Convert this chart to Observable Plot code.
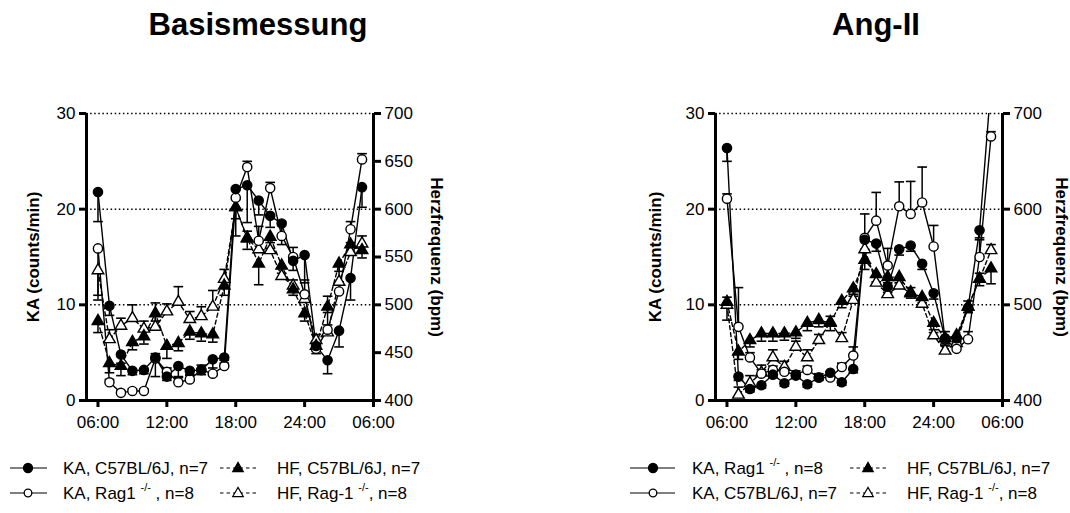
<!DOCTYPE html>
<html>
<head>
<meta charset="utf-8">
<script src="https://cdn.jsdelivr.net/npm/d3@7"></script>
<script src="https://cdn.jsdelivr.net/npm/@observablehq/plot@0.6"></script>
<style>
  html, body { margin: 0; padding: 0; background: white; }
  #wrap { position: relative; width: 1070px; height: 513px; overflow: hidden; font-family: "Liberation Sans", Arial, sans-serif; }
  .panel { position: absolute; }
  #overlay { position: absolute; left: 0; top: 0; z-index: 5; pointer-events: none; }
</style>
</head>
<body>
<div id="wrap">
  <div id="left" class="panel" style="left:0px; top:90px;"></div>
  <div id="right" class="panel" style="left:620px; top:90px;"></div>
  <svg id="overlay" width="1070" height="513"></svg>
</div>
<script>
// ---------- data ----------
const hours = [6,7,8,9,10,11,12,13,14,15,16,17,18,19,20,21,22,23,24,25,26,27,28,29];
const xTicks = [6, 12, 18, 24, 30];
const xTickLabels = ["06:00", "12:00", "18:00", "24:00", "06:00"];
const kaTicks = [0, 10, 20, 30];
const hrDomain = [400, 700];
const hrTicksLeftPanel = [400, 450, 500, 550, 600, 650, 700];
const hrTicksRightPanel = [400, 500, 600, 700];
const titles = ["Basismessung", "Ang-II"];

// Basismessung
const baseKaC57 = [21.8, 9.9, 4.8, 3.1, 3.2, 4.5, 2.5, 3.6, 3.1, 3.2, 4.3, 4.5, 22.1, 22.5, 20.9, 19.3, 18.5, 14.6, 15.2, 5.7, 4.2, 7.3, 12.8, 22.3];
const baseKaC57Err = [-3.1, -1.0, -0.9, -0.4, -0.4, -2.0, -0.4, -1.2, -0.5, -0.5, -1.7, -0.6, -4.9, -3.9, -1.5, -1.2, -2.2, -1.0, -2.9, -0.8, -1.4, -1.7, -2.3, -2.1];
const baseKaRag = [15.9, 1.9, 0.8, 1.0, 1.0, 4.4, 3.0, 1.9, 2.2, 3.2, 2.8, 3.6, 21.2, 24.4, 16.7, 22.2, 17.2, 15.0, 11.1, 5.4, 7.4, 11.4, 17.9, 25.2];
const baseKaRagErr = [-4.9, 0.3, 0.2, 0.2, 0.2, 0.5, 0.4, 0.6, 0.5, 0.5, 0.6, 0.6, 1.0, 0.6, 1.5, 0.6, 1.5, 1.0, 1.5, 0.8, 3.5, 1.0, 0.8, 0.6];
const baseHfC57 = [483, 439, 436, 461, 467, 491, 457, 460, 472, 470, 469, 520, 602, 570, 543, 571, 541, 516, 491, 457, 498, 543, 563, 557];
const baseHfC57Err = [-12, -10, -10, -8, -8, -8, -13, -8, -8, -8, -8, -10, -12, -12, -22, -12, -8, -6, -8, -5, -6, -8, -8, -8];
const baseHfRag = [536, 464, 478, 486, 475, 477, 493, 503, 485, 488, 498, 527, 602, 569, 558, 557, 530, 520, 506, 463, 471, 524, 555, 564];
const baseHfRagErr = [-31, 10, 8, 14, 8, 25, 8, 16, 8, 10, 17, 10, 8, 8, 8, 8, 8, 6, 6, 6, 8, 18, 10, 8];

// Ang-II
const angKaRag = [26.4, 2.5, 1.2, 1.6, 2.7, 1.8, 2.6, 1.7, 2.4, 2.9, 1.9, 3.3, 16.8, 16.4, 11.9, 15.8, 16.2, 14.3, 11.2, 6.5, 6.5, 9.7, 17.8, 33.0];
const angKaRagErr = [-1.4, -0.4, -0.3, -0.3, -0.3, -0.3, -0.3, -0.3, -0.3, -0.3, -0.3, -0.4, -1.0, -0.8, -0.6, -0.6, -0.6, -0.6, -0.6, -0.5, -0.5, -0.5, -0.8, -1.0];
const angKaC57 = [21.1, 7.7, 4.5, 2.8, 3.2, 3.0, 2.7, 3.2, 2.4, 2.4, 3.5, 4.7, 17.0, 18.8, 14.1, 20.3, 19.5, 20.7, 16.1, 6.4, 5.4, 6.4, 15.0, 27.6];
const angKaC57Err = [0.5, 4.1, 0.5, 0.4, 0.4, 0.4, 0.4, 0.4, 0.4, 0.6, 0.4, 0.9, 2.5, 2.95, 1.8, 2.55, 3.4, 3.7, 2.2, 0.8, 0.8, 0.8, 1.8, 0.5];
const angHfC57 = [503, 451, 463, 470, 470, 470, 471, 481, 484, 481, 504, 517, 547, 532, 529, 529, 513, 508, 481, 465, 468, 498, 527, 538];
const angHfC57Err = [-19, -8, -7, -8, -8, -7, -6, -8, -7, -8, -7, -8, -10, -8, -6, -6, -6, -6, -10, -8, -6, -6, -7, -16];
const angHfRag = [500, 406, 418, 429, 445, 435, 456, 445, 463, 482, 465, 505, 558, 523, 511, 520, 512, 501, 468, 452, 460, 498, 527, 557];
const angHfRagErr = [8, 8, 8, 8, 8, 6, 6, 8, 6, 6, 6, 6, 10, 6, 6, 6, 6, 6, 6, 6, 6, 6, 6, 6];

// legend labels (per panel)
const legendLeft = [
  {label: ["KA, C57BL/6J, n=7"], kind: "filledCircle"},
  {label: ["KA, Rag1 ", "-/-", " , n=8"], kind: "openCircle"},
  {label: ["HF, C57BL/6J, n=7"], kind: "filledTriangle"},
  {label: ["HF, Rag-1 ", "-/-", ", n=8"], kind: "openTriangle"}
];
const legendRight = [
  {label: ["KA, Rag1 ", "-/-", " , n=8"], kind: "filledCircle"},
  {label: ["KA, C57BL/6J, n=7"], kind: "openCircle"},
  {label: ["HF, C57BL/6J, n=7"], kind: "filledTriangle"},
  {label: ["HF, Rag-1 ", "-/-", ", n=8"], kind: "openTriangle"}
];

// ---------- helpers ----------
const FONT = "'Liberation Sans', Arial, sans-serif";
const kaMax = 30;
const hrToKa = v => (v - hrDomain[0]) / (hrDomain[1] - hrDomain[0]) * kaMax;
const kaToHr = v => hrDomain[0] + v / kaMax * (hrDomain[1] - hrDomain[0]);

function rows(values, errs, isHr) {
  const f = isHr ? hrToKa : (v => v);
  return hours.map((h, i) => ({
    h, y: f(values[i]),
    yEnd: isHr ? hrToKa(values[i] + errs[i]) : values[i] + errs[i]
  }));
}

function seriesMarks(list, clipTop) {
  const lines = [], errs = [], dots = [];
  for (const s of list) {
    const data = rows(s.values, s.errs, s.hr);
    lines.push(Plot.line(data, {x: "h", y: "y", stroke: "black", strokeWidth: 1.4,
      strokeDasharray: s.hr ? "4,3" : null, clip: clipTop}));
    errs.push(Plot.ruleX(data, {x: "h", y1: "y", y2: "yEnd", stroke: "black", strokeWidth: 1.5, clip: clipTop}));
    errs.push(Plot.link(data, {x1: d => d.h - 0.42, x2: d => d.h + 0.42, y1: "yEnd", y2: "yEnd",
      stroke: "black", strokeWidth: 1.6, clip: clipTop}));
    dots.push(Plot.dot(data, {x: "h", y: "y", symbol: s.hr ? "triangle" : "circle",
      r: s.hr ? 4.3 : 4.6, fill: s.filled ? "black" : "white", stroke: "black", strokeWidth: 1.4,
      clip: s.clipDots ? true : false}));
  }
  return [...lines, ...errs, ...dots];
}

function panel(opts) {
  return Plot.plot({
    width: opts.width, height: 360,
    marginLeft: opts.ml, marginRight: opts.mr, marginTop: 23, marginBottom: 50,
    x: {domain: [5, 30], axis: null},
    y: {domain: [0, kaMax], axis: null},
    style: {fontFamily: FONT, color: "black", background: "white", overflow: "visible"},
    marks: [
      Plot.ruleY([10, 20, 30], {stroke: "black", strokeWidth: 1.5, strokeDasharray: "1.5,2.6"}),
      ...seriesMarks(opts.series, opts.clip),
      Plot.ruleX([5], {stroke: "black", strokeWidth: 3}),
      Plot.ruleX([30], {stroke: "black", strokeWidth: 3}),
      Plot.ruleY([0], {stroke: "black", strokeWidth: 3}),
      Plot.axisY({ticks: kaTicks, anchor: "left", tickSize: 7, tickPadding: 4, strokeWidth: 3,
        fontSize: 17, label: null}),
      Plot.axisY({ticks: opts.hrTicks.map(hrToKa), anchor: "right", tickSize: 7, tickPadding: 4,
        strokeWidth: 3, fontSize: 17, label: null, tickFormat: d => String(Math.round(kaToHr(d)))}),
      Plot.axisX({ticks: xTicks, anchor: "bottom", tickSize: 7, tickPadding: 8, strokeWidth: 3,
        fontSize: 17, label: null, tickFormat: d => xTickLabels[xTicks.indexOf(d)]})
    ]
  });
}

// ---------- panels ----------
document.getElementById("left").appendChild(panel({
  width: 460, ml: 86, mr: 87, hrTicks: hrTicksLeftPanel, clip: false,
  series: [
    {values: baseHfRag, errs: baseHfRagErr, hr: true, filled: false},
    {values: baseHfC57, errs: baseHfC57Err, hr: true, filled: true},
    {values: baseKaRag, errs: baseKaRagErr, hr: false, filled: false},
    {values: baseKaC57, errs: baseKaC57Err, hr: false, filled: true}
  ]
}));
document.getElementById("right").appendChild(panel({
  width: 450, ml: 95, mr: 68, hrTicks: hrTicksRightPanel, clip: true,
  series: [
    {values: angHfRag, errs: angHfRagErr, hr: true, filled: false},
    {values: angHfC57, errs: angHfC57Err, hr: true, filled: true},
    {values: angKaC57, errs: angKaC57Err, hr: false, filled: false},
    {values: angKaRag, errs: angKaRagErr, hr: false, filled: true, clipDots: true}
  ]
}));

// ---------- titles, axis titles, legends ----------
const svg = d3.select("#overlay");
const T = (x, y, txt, size, weight, anchor, rot) => {
  const t = svg.append("text").attr("x", x).attr("y", y).text(txt)
    .attr("font-family", FONT).attr("font-size", size).attr("font-weight", weight || "normal")
    .attr("text-anchor", anchor || "start").attr("fill", "black");
  if (rot) t.attr("transform", `rotate(${rot},${x},${y})`);
  return t;
};
T(258, 35, titles[0], 31, "bold", "middle");
T(876, 35, titles[1], 31, "bold", "middle");

T(39, 257, "KA (counts/min)", 17, "bold", "middle", -90);
T(431, 257, "Herzfrequenz (bpm)", 17, "bold", "middle", 90);
T(661, 257, "KA (counts/min)", 17, "bold", "middle", -90);
T(1056, 257, "Herzfrequenz (bpm)", 17, "bold", "middle", 90);

function legendItem(item, lx1, lx2, mx, tx, cy) {
  const dashed = item.kind.includes("Triangle");
  svg.append("line").attr("x1", lx1).attr("x2", lx2).attr("y1", cy).attr("y2", cy)
    .attr("stroke", "black").attr("stroke-width", 1.2).attr("stroke-dasharray", dashed ? "3.5,3" : null);
  const filled = item.kind.startsWith("filled");
  if (item.kind.includes("Circle")) {
    svg.append("circle").attr("cx", mx).attr("cy", cy).attr("r", filled ? 4.5 : 3.8)
      .attr("fill", filled ? "black" : "white").attr("stroke", "black").attr("stroke-width", 1.3);
  } else {
    svg.append("path").attr("d", d3.symbol(d3.symbolTriangle, 48)())
      .attr("transform", `translate(${mx},${cy + 0.5})`)
      .attr("fill", filled ? "black" : "white").attr("stroke", "black").attr("stroke-width", 1.2);
  }
  const t = svg.append("text").attr("x", tx).attr("y", cy + 6)
    .attr("font-family", FONT).attr("font-size", 17).attr("fill", "black");
  item.label.forEach((part, i) => {
    if (i === 1) {
      t.append("tspan").attr("font-size", 11).attr("dy", -8).text(part);
    } else if (i === 2) {
      t.append("tspan").attr("dy", 8).text(part);
    } else {
      t.append("tspan").text(part);
    }
  });
}
legendItem(legendLeft[0], 10, 47, 28, 63, 468);
legendItem(legendLeft[1], 10, 47, 28, 63, 493);
legendItem(legendLeft[2], 220, 256, 238, 277, 468);
legendItem(legendLeft[3], 220, 256, 238, 277, 493);

legendItem(legendRight[0], 630, 675, 653, 692, 468);
legendItem(legendRight[1], 630, 675, 653, 692, 493);
legendItem(legendRight[2], 850, 887, 868, 907, 468);
legendItem(legendRight[3], 850, 887, 868, 907, 493);
</script>
</body>
</html>
